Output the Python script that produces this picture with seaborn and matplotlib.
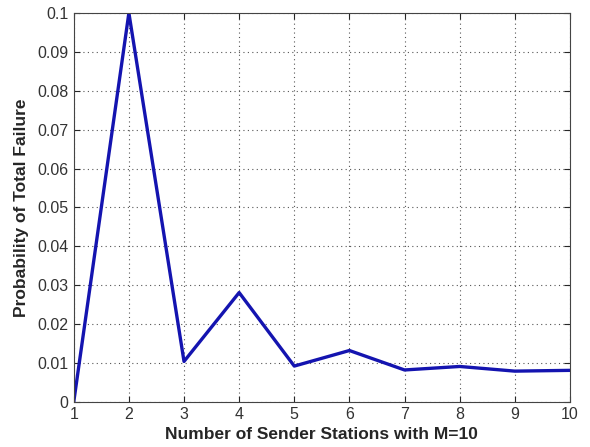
import numpy as np
import matplotlib
matplotlib.use("Agg")
import matplotlib.pyplot as plt
import seaborn as sns
import pandas as pd

# data
stations = [1, 2, 3, 4, 5, 6, 7, 8, 9, 10]
prob_failure = [0.0, 0.1, 0.0104, 0.0281, 0.0092, 0.0132, 0.0082, 0.0091, 0.0079, 0.0081]
y_ticks = [0, 0.01, 0.02, 0.03, 0.04, 0.05, 0.06, 0.07, 0.08, 0.09, 0.1]
y_tick_labels = ["0", "0.01", "0.02", "0.03", "0.04", "0.05", "0.06", "0.07", "0.08", "0.09", "0.1"]

sns.set_style("white")
plt.rcParams['font.family'] = ['Liberation Sans', 'DejaVu Sans']

df = pd.DataFrame({"stations": stations, "prob": prob_failure})

fig = plt.figure(figsize=(5.9, 4.47), dpi=100)
ax = fig.add_axes([0.125, 0.101, 0.841, 0.870])
sns.lineplot(data=df, x="stations", y="prob", ax=ax, color="#1414b0", linewidth=2.4)

ax.set_xlim(1, 10)
ax.set_ylim(0, 0.1)
ax.set_xticks(stations)
ax.set_yticks(y_ticks)
ax.set_yticklabels(y_tick_labels)
ax.grid(True, linestyle=(0, (1, 3)), color="#555555", linewidth=0.8)
ax.tick_params(direction="in", length=4, labelsize=11.5, labelcolor="#333333", pad=4,
               top=True, right=True, bottom=True, left=True)
for s in ax.spines.values():
    s.set_color("#444444")
    s.set_linewidth(0.8)

ax.set_xlabel("Number of Sender Stations with M=10", fontsize=12.5, fontweight="bold", labelpad=3)
ax.set_ylabel("Probability of Total Failure", fontsize=12.5, fontweight="bold", labelpad=6)

fig.savefig("out.png", dpi=100)
